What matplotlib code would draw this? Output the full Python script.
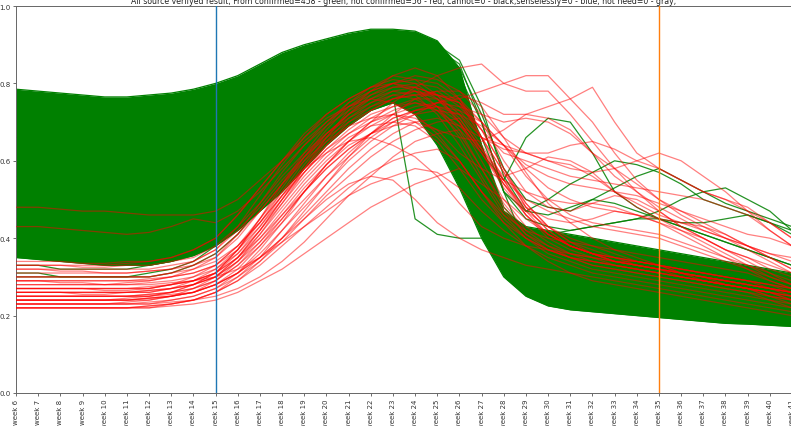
import matplotlib
matplotlib.use("Agg")
import matplotlib.pyplot as plt
import numpy as np

# ---------------- data ----------------
week_labels = ["week %d" % w for w in range(6, 42)]

title_text = ("All source verifyed result, From confirmed=458 - green, not confirmed=56 - red, "
              "cannot=0 - black,senselessly=0 - blue, not need=0 - gray,")

# dense core of the confirmed (green) curves: upper / lower envelope per week
green_upper = [0.785, 0.78, 0.775, 0.77, 0.765, 0.765, 0.77, 0.775, 0.785, 0.80, 0.82, 0.85,
               0.88, 0.90, 0.915, 0.93, 0.94, 0.94, 0.935, 0.91, 0.84, 0.64, 0.47, 0.43,
               0.42, 0.41, 0.40, 0.39, 0.38, 0.37, 0.36, 0.35, 0.34, 0.33, 0.32, 0.31]
green_lower = [0.35, 0.345, 0.34, 0.335, 0.33, 0.33, 0.33, 0.34, 0.355, 0.38, 0.42, 0.47,
               0.52, 0.58, 0.64, 0.69, 0.73, 0.75, 0.72, 0.64, 0.53, 0.40, 0.30, 0.25,
               0.225, 0.215, 0.21, 0.205, 0.20, 0.195, 0.19, 0.185, 0.18, 0.178, 0.175, 0.172]

# individual confirmed curves standing out of the core
green_01 = [0.30, 0.30, 0.30, 0.30, 0.30, 0.30, 0.30, 0.31, 0.33, 0.36, 0.41, 0.48, 0.55, 0.62, 0.68, 0.73, 0.76, 0.77,
            0.45, 0.41, 0.40, 0.40, 0.39, 0.38, 0.37, 0.36, 0.35, 0.34, 0.33, 0.32, 0.31, 0.30, 0.29, 0.28, 0.27, 0.26]
green_02 = [0.45, 0.45, 0.44, 0.44, 0.44, 0.44, 0.45, 0.46, 0.48, 0.52, 0.58, 0.65, 0.72, 0.78, 0.83, 0.86, 0.88, 0.88,
            0.86, 0.82, 0.72, 0.62, 0.55, 0.66, 0.71, 0.70, 0.62, 0.52, 0.48, 0.45, 0.43, 0.41, 0.39, 0.37, 0.35, 0.33]
green_03 = [0.38, 0.38, 0.37, 0.37, 0.37, 0.37, 0.38, 0.39, 0.41, 0.45, 0.51, 0.58, 0.66, 0.73, 0.79, 0.84, 0.87, 0.88,
            0.87, 0.84, 0.78, 0.66, 0.52, 0.47, 0.50, 0.54, 0.57, 0.60, 0.59, 0.57, 0.54, 0.50, 0.48, 0.46, 0.44, 0.42]
green_04 = [0.52, 0.52, 0.51, 0.51, 0.51, 0.51, 0.52, 0.53, 0.55, 0.59, 0.64, 0.70, 0.76, 0.81, 0.85, 0.88, 0.90, 0.91,
            0.90, 0.88, 0.84, 0.72, 0.58, 0.50, 0.48, 0.47, 0.50, 0.53, 0.56, 0.58, 0.55, 0.52, 0.49, 0.47, 0.45, 0.43]
green_05 = [0.60, 0.60, 0.59, 0.59, 0.59, 0.59, 0.60, 0.61, 0.63, 0.67, 0.72, 0.77, 0.82, 0.86, 0.89, 0.91, 0.92, 0.92,
            0.91, 0.89, 0.85, 0.70, 0.52, 0.45, 0.43, 0.42, 0.43, 0.44, 0.45, 0.47, 0.50, 0.52, 0.53, 0.50, 0.47, 0.42]
green_06 = [0.31, 0.31, 0.30, 0.30, 0.30, 0.30, 0.31, 0.32, 0.34, 0.38, 0.44, 0.51, 0.59, 0.66, 0.72, 0.77, 0.81, 0.83,
            0.84, 0.82, 0.76, 0.62, 0.45, 0.33, 0.28, 0.26, 0.25, 0.24, 0.23, 0.23, 0.22, 0.22, 0.21, 0.21, 0.20, 0.20]
green_07 = [0.33, 0.33, 0.32, 0.32, 0.32, 0.32, 0.33, 0.34, 0.36, 0.40, 0.46, 0.53, 0.61, 0.68, 0.74, 0.79, 0.83, 0.86,
            0.87, 0.86, 0.82, 0.70, 0.52, 0.38, 0.32, 0.30, 0.29, 0.28, 0.27, 0.26, 0.25, 0.24, 0.24, 0.23, 0.22, 0.21]
green_08 = [0.56, 0.56, 0.55, 0.55, 0.55, 0.55, 0.56, 0.57, 0.59, 0.63, 0.68, 0.74, 0.79, 0.84, 0.87, 0.89, 0.90, 0.90,
            0.89, 0.86, 0.80, 0.64, 0.48, 0.42, 0.41, 0.42, 0.43, 0.44, 0.45, 0.45, 0.44, 0.44, 0.45, 0.46, 0.44, 0.41]
green_09 = [0.66, 0.66, 0.65, 0.65, 0.65, 0.65, 0.66, 0.67, 0.69, 0.72, 0.76, 0.80, 0.84, 0.87, 0.90, 0.92, 0.93, 0.93,
            0.92, 0.90, 0.86, 0.74, 0.56, 0.47, 0.46, 0.48, 0.50, 0.49, 0.47, 0.45, 0.43, 0.41, 0.39, 0.37, 0.35, 0.33]

# not confirmed (red) curves
red_01 = [0.48, 0.48, 0.475, 0.47, 0.47, 0.465, 0.46, 0.46, 0.46, 0.47, 0.50, 0.55, 0.60, 0.65, 0.70, 0.74, 0.77, 0.79,
          0.80, 0.79, 0.75, 0.68, 0.58, 0.48, 0.42, 0.38, 0.36, 0.34, 0.33, 0.32, 0.31, 0.30, 0.29, 0.28, 0.27, 0.26]
red_02 = [0.43, 0.43, 0.425, 0.42, 0.415, 0.41, 0.415, 0.43, 0.45, 0.44, 0.47, 0.52, 0.58, 0.64, 0.69, 0.73, 0.76, 0.78,
          0.79, 0.77, 0.72, 0.64, 0.55, 0.47, 0.41, 0.38, 0.36, 0.35, 0.34, 0.33, 0.32, 0.31, 0.30, 0.29, 0.28, 0.27]
red_03 = [0.22, 0.22, 0.22, 0.22, 0.22, 0.22, 0.225, 0.23, 0.24, 0.26, 0.29, 0.33, 0.38, 0.43, 0.48, 0.53, 0.57, 0.60,
          0.62, 0.63, 0.60, 0.52, 0.44, 0.38, 0.34, 0.31, 0.29, 0.28, 0.27, 0.26, 0.25, 0.24, 0.23, 0.22, 0.21, 0.20]
red_04 = [0.24, 0.24, 0.24, 0.24, 0.24, 0.245, 0.25, 0.26, 0.28, 0.31, 0.37, 0.45, 0.54, 0.62, 0.69, 0.75, 0.79, 0.82,
          0.81, 0.77, 0.70, 0.60, 0.50, 0.43, 0.39, 0.36, 0.34, 0.33, 0.32, 0.31, 0.30, 0.29, 0.28, 0.27, 0.26, 0.25]
red_05 = [0.26, 0.26, 0.26, 0.255, 0.255, 0.26, 0.26, 0.27, 0.28, 0.30, 0.34, 0.40, 0.47, 0.54, 0.60, 0.65, 0.69, 0.72,
          0.74, 0.75, 0.74, 0.72, 0.70, 0.71, 0.70, 0.67, 0.62, 0.58, 0.54, 0.50, 0.47, 0.45, 0.43, 0.41, 0.40, 0.38]
red_06 = [0.23, 0.23, 0.23, 0.23, 0.23, 0.235, 0.24, 0.25, 0.26, 0.28, 0.32, 0.38, 0.45, 0.52, 0.59, 0.65, 0.70, 0.75,
          0.79, 0.82, 0.84, 0.85, 0.80, 0.78, 0.78, 0.72, 0.65, 0.58, 0.52, 0.47, 0.43, 0.40, 0.37, 0.35, 0.33, 0.31]
red_07 = [0.28, 0.28, 0.28, 0.28, 0.28, 0.285, 0.29, 0.30, 0.31, 0.33, 0.38, 0.44, 0.51, 0.58, 0.64, 0.69, 0.73, 0.76,
          0.78, 0.77, 0.76, 0.78, 0.80, 0.82, 0.82, 0.76, 0.70, 0.62, 0.55, 0.50, 0.46, 0.43, 0.40, 0.38, 0.36, 0.35]
red_08 = [0.25, 0.25, 0.25, 0.25, 0.25, 0.25, 0.255, 0.26, 0.27, 0.29, 0.33, 0.39, 0.46, 0.53, 0.59, 0.64, 0.67, 0.69,
          0.70, 0.68, 0.66, 0.65, 0.68, 0.72, 0.74, 0.76, 0.79, 0.70, 0.62, 0.58, 0.55, 0.52, 0.50, 0.47, 0.44, 0.40]
red_09 = [0.31, 0.31, 0.31, 0.31, 0.31, 0.31, 0.315, 0.32, 0.33, 0.35, 0.40, 0.47, 0.54, 0.61, 0.67, 0.72, 0.75, 0.77,
          0.76, 0.73, 0.69, 0.66, 0.64, 0.62, 0.60, 0.58, 0.57, 0.58, 0.60, 0.62, 0.60, 0.56, 0.52, 0.47, 0.42, 0.38]
red_10 = [0.27, 0.27, 0.27, 0.27, 0.27, 0.27, 0.27, 0.28, 0.29, 0.31, 0.35, 0.41, 0.48, 0.55, 0.61, 0.66, 0.69, 0.70,
          0.69, 0.65, 0.58, 0.50, 0.44, 0.40, 0.37, 0.35, 0.34, 0.33, 0.32, 0.31, 0.30, 0.29, 0.28, 0.27, 0.26, 0.25]
red_11 = [0.23, 0.23, 0.23, 0.23, 0.23, 0.23, 0.23, 0.235, 0.24, 0.25, 0.27, 0.30, 0.34, 0.39, 0.45, 0.51, 0.56, 0.61,
          0.65, 0.67, 0.68, 0.62, 0.54, 0.47, 0.43, 0.40, 0.38, 0.36, 0.34, 0.33, 0.31, 0.30, 0.29, 0.28, 0.27, 0.26]
red_12 = [0.33, 0.33, 0.33, 0.33, 0.33, 0.335, 0.34, 0.35, 0.37, 0.40, 0.46, 0.53, 0.60, 0.67, 0.72, 0.76, 0.79, 0.80,
          0.78, 0.74, 0.68, 0.58, 0.48, 0.41, 0.37, 0.35, 0.33, 0.32, 0.31, 0.30, 0.29, 0.28, 0.27, 0.26, 0.25, 0.24]
red_13 = [0.24, 0.24, 0.24, 0.24, 0.24, 0.24, 0.245, 0.25, 0.26, 0.28, 0.31, 0.35, 0.40, 0.45, 0.50, 0.54, 0.56, 0.55,
          0.50, 0.44, 0.40, 0.37, 0.35, 0.33, 0.32, 0.31, 0.30, 0.29, 0.28, 0.27, 0.26, 0.25, 0.24, 0.23, 0.22, 0.21]
red_14 = [0.22, 0.22, 0.22, 0.22, 0.22, 0.22, 0.225, 0.23, 0.24, 0.26, 0.30, 0.35, 0.42, 0.49, 0.56, 0.62, 0.67, 0.71,
          0.73, 0.74, 0.72, 0.66, 0.57, 0.49, 0.43, 0.39, 0.36, 0.34, 0.33, 0.32, 0.31, 0.30, 0.29, 0.28, 0.27, 0.26]
red_15 = [0.29, 0.29, 0.29, 0.29, 0.29, 0.29, 0.295, 0.30, 0.32, 0.35, 0.41, 0.49, 0.57, 0.64, 0.70, 0.75, 0.78, 0.80,
          0.81, 0.80, 0.76, 0.68, 0.58, 0.49, 0.43, 0.39, 0.37, 0.35, 0.33, 0.32, 0.31, 0.30, 0.29, 0.28, 0.27, 0.25]
red_16 = [0.25, 0.25, 0.25, 0.25, 0.25, 0.25, 0.255, 0.26, 0.27, 0.29, 0.33, 0.38, 0.44, 0.50, 0.56, 0.61, 0.66, 0.70,
          0.73, 0.75, 0.76, 0.70, 0.60, 0.52, 0.48, 0.47, 0.49, 0.51, 0.50, 0.47, 0.43, 0.40, 0.37, 0.34, 0.31, 0.28]
red_17 = [0.30, 0.30, 0.30, 0.30, 0.30, 0.30, 0.30, 0.31, 0.32, 0.34, 0.38, 0.44, 0.51, 0.57, 0.63, 0.67, 0.70, 0.72,
          0.71, 0.68, 0.62, 0.58, 0.55, 0.52, 0.50, 0.49, 0.49, 0.48, 0.46, 0.44, 0.42, 0.40, 0.37, 0.35, 0.32, 0.30]
red_18 = [0.27, 0.27, 0.27, 0.27, 0.27, 0.27, 0.275, 0.28, 0.30, 0.33, 0.38, 0.45, 0.52, 0.58, 0.62, 0.65, 0.66, 0.64,
          0.61, 0.56, 0.49, 0.43, 0.40, 0.38, 0.37, 0.36, 0.35, 0.34, 0.34, 0.33, 0.32, 0.31, 0.30, 0.29, 0.27, 0.26]
red_19 = [0.24, 0.24, 0.24, 0.24, 0.24, 0.24, 0.245, 0.25, 0.27, 0.30, 0.35, 0.42, 0.50, 0.58, 0.66, 0.73, 0.78, 0.82,
          0.84, 0.82, 0.76, 0.66, 0.55, 0.46, 0.40, 0.37, 0.35, 0.33, 0.32, 0.31, 0.30, 0.29, 0.28, 0.27, 0.26, 0.24]
red_20 = [0.32, 0.32, 0.32, 0.32, 0.32, 0.32, 0.32, 0.33, 0.34, 0.37, 0.42, 0.48, 0.55, 0.61, 0.66, 0.70, 0.73, 0.76,
          0.77, 0.78, 0.74, 0.68, 0.62, 0.60, 0.58, 0.56, 0.55, 0.54, 0.53, 0.52, 0.51, 0.50, 0.48, 0.46, 0.42, 0.38]
red_21 = [0.23, 0.23, 0.23, 0.23, 0.23, 0.23, 0.235, 0.24, 0.25, 0.27, 0.30, 0.34, 0.39, 0.45, 0.51, 0.56, 0.61, 0.65,
          0.68, 0.70, 0.71, 0.63, 0.56, 0.58, 0.61, 0.60, 0.57, 0.52, 0.48, 0.45, 0.42, 0.39, 0.36, 0.33, 0.30, 0.28]
red_22 = [0.26, 0.26, 0.26, 0.26, 0.26, 0.26, 0.265, 0.27, 0.29, 0.32, 0.37, 0.44, 0.52, 0.60, 0.67, 0.72, 0.76, 0.79,
          0.79, 0.77, 0.75, 0.66, 0.63, 0.62, 0.62, 0.64, 0.65, 0.63, 0.60, 0.58, 0.55, 0.52, 0.50, 0.48, 0.44, 0.40]
red_23 = [0.34, 0.34, 0.34, 0.335, 0.335, 0.34, 0.34, 0.35, 0.37, 0.40, 0.46, 0.53, 0.60, 0.66, 0.71, 0.74, 0.76, 0.75,
          0.72, 0.67, 0.60, 0.52, 0.45, 0.40, 0.37, 0.35, 0.34, 0.33, 0.32, 0.31, 0.30, 0.29, 0.28, 0.27, 0.26, 0.25]
red_24 = [0.28, 0.28, 0.28, 0.28, 0.28, 0.28, 0.28, 0.285, 0.29, 0.30, 0.32, 0.35, 0.39, 0.43, 0.47, 0.51, 0.54, 0.56,
          0.58, 0.57, 0.53, 0.47, 0.42, 0.38, 0.35, 0.33, 0.31, 0.30, 0.29, 0.28, 0.27, 0.26, 0.25, 0.24, 0.23, 0.22]
red_25 = [0.22, 0.22, 0.22, 0.22, 0.22, 0.22, 0.22, 0.225, 0.23, 0.24, 0.26, 0.29, 0.32, 0.36, 0.40, 0.44, 0.48, 0.51,
          0.54, 0.56, 0.58, 0.54, 0.50, 0.45, 0.41, 0.38, 0.36, 0.35, 0.34, 0.33, 0.32, 0.31, 0.30, 0.29, 0.28, 0.27]
red_26 = [0.25, 0.25, 0.25, 0.25, 0.25, 0.25, 0.25, 0.26, 0.28, 0.31, 0.37, 0.45, 0.53, 0.61, 0.68, 0.74, 0.78, 0.80,
          0.79, 0.74, 0.66, 0.56, 0.47, 0.41, 0.38, 0.36, 0.35, 0.34, 0.33, 0.32, 0.30, 0.29, 0.28, 0.27, 0.25, 0.23]
red_27 = [0.27, 0.27, 0.27, 0.27, 0.27, 0.27, 0.27, 0.28, 0.29, 0.31, 0.35, 0.40, 0.46, 0.52, 0.58, 0.63, 0.67, 0.71,
          0.73, 0.74, 0.73, 0.70, 0.64, 0.56, 0.50, 0.46, 0.44, 0.43, 0.42, 0.41, 0.39, 0.37, 0.35, 0.33, 0.31, 0.29]
red_28 = [0.24, 0.24, 0.24, 0.24, 0.24, 0.24, 0.245, 0.25, 0.26, 0.28, 0.31, 0.36, 0.42, 0.48, 0.54, 0.60, 0.65, 0.69,
          0.72, 0.75, 0.77, 0.75, 0.72, 0.72, 0.71, 0.68, 0.62, 0.56, 0.52, 0.48, 0.45, 0.42, 0.40, 0.38, 0.36, 0.34]
red_29 = [0.26, 0.26, 0.26, 0.26, 0.26, 0.26, 0.265, 0.27, 0.28, 0.30, 0.35, 0.42, 0.50, 0.58, 0.65, 0.71, 0.75, 0.78,
          0.77, 0.72, 0.64, 0.55, 0.46, 0.40, 0.36, 0.34, 0.32, 0.31, 0.30, 0.29, 0.28, 0.27, 0.26, 0.25, 0.24, 0.23]
red_30 = [0.29, 0.29, 0.285, 0.285, 0.28, 0.28, 0.285, 0.29, 0.30, 0.32, 0.36, 0.42, 0.49, 0.56, 0.62, 0.67, 0.71, 0.74,
          0.76, 0.76, 0.73, 0.66, 0.57, 0.48, 0.42, 0.38, 0.36, 0.34, 0.33, 0.32, 0.31, 0.30, 0.29, 0.28, 0.27, 0.26]
red_31 = [0.23, 0.23, 0.23, 0.23, 0.23, 0.23, 0.23, 0.24, 0.25, 0.27, 0.31, 0.37, 0.44, 0.52, 0.59, 0.65, 0.70, 0.73,
          0.75, 0.73, 0.67, 0.58, 0.49, 0.42, 0.38, 0.35, 0.33, 0.32, 0.31, 0.30, 0.29, 0.28, 0.27, 0.26, 0.24, 0.22]
red_32 = [0.32, 0.32, 0.315, 0.315, 0.31, 0.31, 0.315, 0.32, 0.34, 0.37, 0.43, 0.51, 0.59, 0.66, 0.72, 0.76, 0.79, 0.81,
          0.80, 0.76, 0.70, 0.62, 0.54, 0.48, 0.45, 0.44, 0.45, 0.47, 0.46, 0.44, 0.41, 0.38, 0.35, 0.32, 0.29, 0.27]
red_33 = [0.25, 0.25, 0.25, 0.25, 0.25, 0.25, 0.25, 0.255, 0.26, 0.28, 0.31, 0.35, 0.40, 0.46, 0.52, 0.58, 0.63, 0.67,
          0.70, 0.71, 0.69, 0.63, 0.55, 0.50, 0.47, 0.45, 0.43, 0.42, 0.41, 0.40, 0.38, 0.36, 0.34, 0.32, 0.30, 0.28]
red_34 = [0.30, 0.30, 0.30, 0.30, 0.30, 0.30, 0.30, 0.31, 0.33, 0.36, 0.41, 0.47, 0.54, 0.60, 0.65, 0.69, 0.71, 0.72,
          0.70, 0.66, 0.60, 0.52, 0.46, 0.42, 0.40, 0.39, 0.38, 0.37, 0.36, 0.35, 0.34, 0.33, 0.32, 0.31, 0.29, 0.27]
red_35 = [0.22, 0.22, 0.22, 0.22, 0.22, 0.22, 0.22, 0.23, 0.24, 0.26, 0.29, 0.34, 0.40, 0.47, 0.54, 0.61, 0.67, 0.72,
          0.76, 0.78, 0.78, 0.74, 0.66, 0.57, 0.49, 0.44, 0.40, 0.37, 0.35, 0.33, 0.31, 0.30, 0.28, 0.27, 0.25, 0.24]
red_36 = [0.27, 0.27, 0.27, 0.27, 0.265, 0.265, 0.27, 0.28, 0.29, 0.31, 0.36, 0.43, 0.51, 0.59, 0.66, 0.72, 0.77, 0.80,
          0.82, 0.81, 0.78, 0.72, 0.66, 0.62, 0.60, 0.59, 0.56, 0.52, 0.49, 0.46, 0.44, 0.42, 0.40, 0.37, 0.34, 0.31]
red_37 = [0.24, 0.24, 0.24, 0.24, 0.24, 0.24, 0.24, 0.25, 0.26, 0.29, 0.34, 0.41, 0.49, 0.57, 0.64, 0.70, 0.74, 0.77,
          0.78, 0.76, 0.71, 0.63, 0.54, 0.46, 0.41, 0.38, 0.36, 0.35, 0.34, 0.33, 0.32, 0.31, 0.30, 0.29, 0.28, 0.26]
red_38 = [0.33, 0.33, 0.33, 0.325, 0.325, 0.33, 0.33, 0.34, 0.35, 0.38, 0.43, 0.49, 0.56, 0.62, 0.67, 0.71, 0.74, 0.76,
          0.77, 0.77, 0.75, 0.70, 0.64, 0.58, 0.53, 0.50, 0.48, 0.47, 0.46, 0.45, 0.44, 0.43, 0.41, 0.38, 0.35, 0.32]
red_39 = [0.26, 0.26, 0.26, 0.26, 0.26, 0.26, 0.26, 0.27, 0.28, 0.30, 0.34, 0.39, 0.45, 0.52, 0.58, 0.63, 0.67, 0.70,
          0.72, 0.73, 0.72, 0.69, 0.64, 0.59, 0.56, 0.54, 0.53, 0.52, 0.51, 0.49, 0.47, 0.44, 0.41, 0.38, 0.35, 0.32]
red_40 = [0.29, 0.29, 0.29, 0.29, 0.29, 0.29, 0.29, 0.30, 0.31, 0.33, 0.37, 0.43, 0.50, 0.57, 0.63, 0.68, 0.72, 0.74,
          0.75, 0.74, 0.70, 0.62, 0.53, 0.46, 0.41, 0.38, 0.36, 0.34, 0.33, 0.32, 0.31, 0.29, 0.28, 0.27, 0.26, 0.24]

green_lines = [green_01, green_02, green_03, green_04, green_05, green_06, green_07, green_08, green_09]
red_lines = [red_01, red_02, red_03, red_04, red_05, red_06, red_07, red_08, red_09, red_10,
             red_11, red_12, red_13, red_14, red_15, red_16, red_17, red_18, red_19, red_20,
             red_21, red_22, red_23, red_24, red_25, red_26, red_27, red_28, red_29, red_30,
             red_31, red_32, red_33, red_34, red_35, red_36, red_37, red_38, red_39, red_40]

blue_marker_week = "week 15"
orange_marker_week = "week 35"

# ---------------- plot ----------------
W, H = 791, 427
fig = plt.figure(figsize=(W / 100, H / 100), dpi=100)
left, right, top, bottom = 16, 792, 7, 394
ax = fig.add_axes([left / W, 1 - bottom / H, (right - left) / W, (bottom - top) / H])

x = np.arange(len(week_labels))

ax.fill_between(x, green_lower, green_upper, color="green", linewidth=0, zorder=1)
ax.plot(x, green_upper, color="green", lw=0.9, zorder=1.5)
ax.plot(x, green_lower, color="green", lw=0.9, zorder=1.5)
for s in green_lines:
    ax.plot(x, s, color="green", lw=0.9, alpha=0.85, zorder=2)
for s in red_lines:
    ax.plot(x, s, color="red", lw=0.9, alpha=0.5, zorder=3)

ax.axvline(week_labels.index(blue_marker_week), color="#1f77b4", lw=1.0, zorder=4)
ax.axvline(week_labels.index(orange_marker_week), color="#ff7f0e", lw=1.0, zorder=4)

ax.set_xlim(0, len(week_labels) - 1)
ax.set_ylim(0, 1.0)
ax.set_xticks(x)
ax.set_xticklabels(week_labels, rotation=90, fontsize=5, color="#333333")
ax.set_yticks([0.0, 0.2, 0.4, 0.6, 0.8, 1.0])
ax.set_yticklabels(["0.0", "0.2", "0.4", "0.6", "0.8", "1.0"], fontsize=5, color="#333333")
ax.tick_params(length=2.5, width=0.6, pad=1.5, color="#555555")
for sp in ax.spines.values():
    sp.set_linewidth(0.7)
    sp.set_color("#666666")

ax.set_title(title_text, fontsize=5.6, pad=1.8, color="#222222")

fig.savefig("out.png", dpi=100)
